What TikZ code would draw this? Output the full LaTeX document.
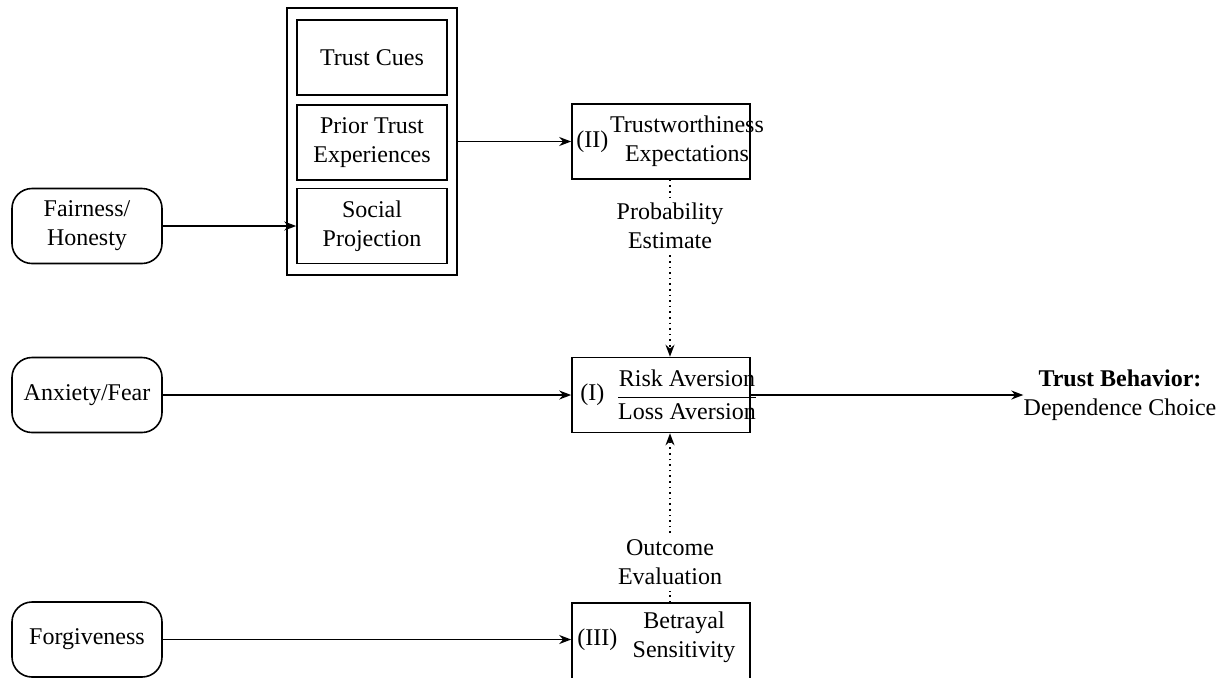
\documentclass[tikz,border=0pt]{standalone}
\usepackage{amsmath}
\usepackage{fontspec}
\setmainfont{Liberation Serif}
\usetikzlibrary{arrows.meta,calc}
\tikzset{
  roundbox/.style={draw, rounded corners=10pt, line width=0.8pt, minimum width=75pt, minimum height=37.5pt, align=center, inner sep=0pt, font=\fontsize{12}{14.5}\selectfont},
  sqbox/.style={draw, line width=0.8pt, minimum width=75pt, minimum height=37.5pt, align=center, inner sep=0pt, font=\fontsize{12}{14.5}\selectfont},
  bigbox/.style={draw, line width=0.8pt, minimum width=89pt, minimum height=37.5pt, inner sep=0pt},
  txt/.style={align=center, inner sep=0pt, font=\fontsize{12}{14.5}\selectfont},
  lbl/.style={align=center, inner sep=3pt, font=\fontsize{12}{14.5}\selectfont},
  arr/.style={line width=0.8pt, -{Stealth[length=6pt,width=4.5pt]}},
  dotarr/.style={line width=0.8pt, dotted, -{Stealth[length=6pt,width=4.5pt]}},
  dotline/.style={line width=0.8pt, dotted},
}
\begin{document}
\begin{tikzpicture}[x=0.5pt,y=-0.5pt]
\useasboundingbox (0,0) rectangle (1226,677);
% left inputs
\node[roundbox] (fair) at (87,226) {Fairness/\\Honesty};
\node[roundbox] (anx) at (87,395) {Anxiety/Fear};
\node[roundbox] (forg) at (87,639.5) {Forgiveness};
% antecedents group
\node[draw, line width=0.8pt, minimum width=85pt, minimum height=133.5pt, inner sep=0pt] (grp) at (372,141.5) {};
\node[sqbox] (cues) at (372,57.5) {Trust Cues};
\node[sqbox] (prior) at (372,142.5) {Prior Trust\\Experiences};
\node[sqbox] (proj) at (372,226) {Social\\Projection};
% central boxes
\node[bigbox] (tw) at (661,141.5) {};
\node[txt, anchor=west] (twn) at (576,141.5) {(II)};
\node[txt] (twt) at (687,141.5) {Trustworthiness\\Expectations};
\node[bigbox] (risk) at (661,395) {};
\node[txt, anchor=west] (riskn) at (580,395) {(I)};
\node[txt] (riskt) at (687,395) {$\dfrac{\mbox{Risk Aversion}}{\mbox{Loss Aversion}}$};
\node[bigbox, minimum height=41pt] (bet) at (661,644) {};
\node[txt, anchor=west] (betn) at (577,640) {(III)};
\node[txt] (bett) at (684,637) {Betrayal\\Sensitivity};
% outcome
\node[txt] (beh) at (1120,395) {\textbf{Trust Behavior:}\\Dependence Choice};
% labels on dotted links
\node[lbl] (pe) at (670,226) {Probability\\Estimate};
\node[lbl] (oe) at (670,562) {Outcome\\Evaluation};
% connectors
\draw[arr] (fair) -- (proj);
\draw[arr] (grp.east |- tw.west) -- (tw.west);
\draw[arr] (anx) -- (risk);
\draw[arr] (forg) -- (bet.west |- forg.east);
\draw[arr] (risk.east) -- (beh.west);
\draw[dotline] (tw.south -| pe) -- (pe.north);
\draw[dotarr] (pe.south) -- (risk.north -| pe);
\draw[dotline] (bet.north -| oe) -- (oe.south);
\draw[dotarr] (oe.north) -- (risk.south -| oe);
\end{tikzpicture}
\end{document}
